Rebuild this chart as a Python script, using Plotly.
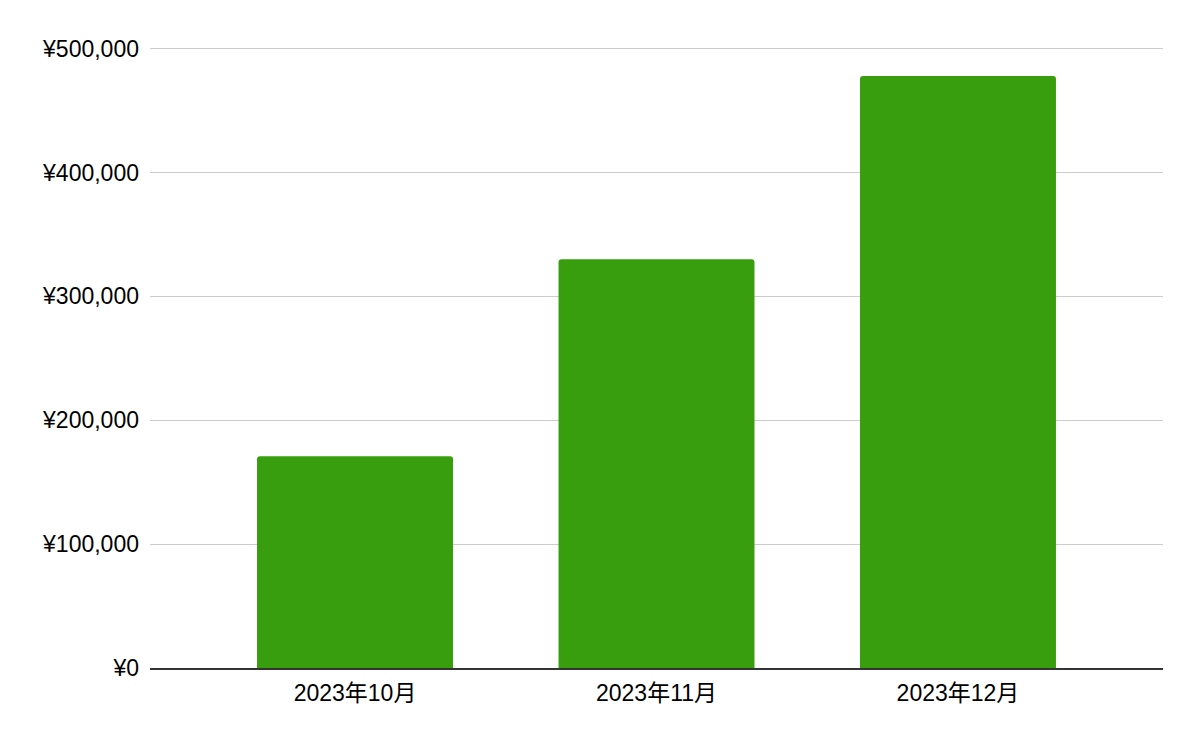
import plotly.graph_objects as go

months = ["2023年10月", "2023年11月", "2023年12月"]
sales = [171000, 330000, 478000]
y_ticks = [0, 100000, 200000, 300000, 400000, 500000]
y_tick_labels = ["¥0", "¥100,000", "¥200,000", "¥300,000", "¥400,000", "¥500,000"]

fig = go.Figure(
    go.Bar(x=months, y=sales, marker=dict(color="#389e0d", line=dict(width=0)))
)
fig.update_layout(
    width=1200, height=742,
    margin=dict(l=142, r=45, t=37, b=82),
    plot_bgcolor="white", paper_bgcolor="white",
    bargap=0.35,
    barcornerradius=3,
    showlegend=False,
    font=dict(family="Liberation Sans, Arial, Noto Sans CJK JP", size=24, color="#000000"),
)
fig.update_xaxes(
    type="category", range=[-0.68, 2.68],
    showline=True, linecolor="#333333", linewidth=2,
    ticks="", showgrid=False,
    ticklabelstandoff=3,
    tickfont=dict(family="Liberation Sans, Noto Sans CJK JP", size=23, color="#000000"),
)
fig.update_yaxes(
    range=[0, 503000], tickvals=y_ticks, ticktext=y_tick_labels,
    showgrid=True, gridcolor="#cccccc", gridwidth=1,
    zeroline=False, showline=False, ticks="", ticklen=0,
    ticklabelstandoff=10,
    tickfont=dict(size=23, color="#000000"),
)
fig.write_html("out.html")
